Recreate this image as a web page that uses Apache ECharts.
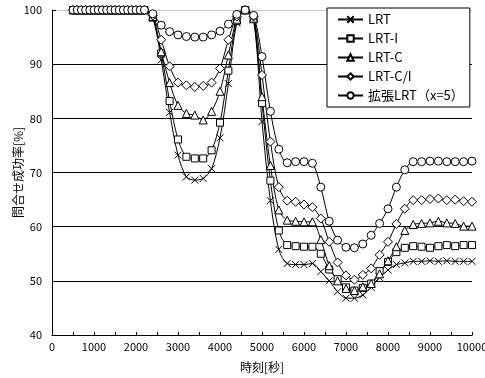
<!DOCTYPE html>
<html>
<head>
<meta charset="utf-8">
<script src="https://cdn.jsdelivr.net/npm/echarts@6/dist/echarts.min.js"></script>
<style>
  html, body { margin: 0; padding: 0; background: #fff; }
  #chart { width: 485px; height: 378px; }
</style>
</head>
<body>
<div id="chart"></div>
<script>
// time [s]; 100 s steps on the flat start, 200 s afterwards
const times = [
  500, 600, 700, 800, 900, 1000, 1100, 1200, 1300, 1400, 1500, 1600, 1700, 1800, 1900, 2000, 2100, 2200,
  2400, 2600, 2800, 3000, 3200, 3400, 3600, 3800, 4000, 4200, 4400, 4600, 4800,
  5000, 5200, 5400, 5600, 5800, 6000, 6200, 6400, 6600, 6800, 7000, 7200, 7400, 7600, 7800,
  8000, 8200, 8400, 8600, 8800, 9000, 9200, 9400, 9600, 9800, 10000
];
const flat = [100, 100, 100, 100, 100, 100, 100, 100, 100, 100, 100, 100, 100, 100, 100, 100, 100, 100];

const lrt = flat.concat([
  98.5, 90.8, 81.1, 73.2, 69.2, 68.6, 68.9, 70.7, 76.4, 86.4, 97.6, 100, 98.2,
  79.4, 64.8, 55.8, 53.2, 53.0, 53.0, 53.2, 51.7, 50.0, 48.0, 46.8, 46.8, 47.4, 48.8, 50.6,
  52.0, 53.0, 53.3, 53.6, 53.6, 53.7, 53.6, 53.7, 53.6, 53.6, 53.6
]);
const lrtI = flat.concat([
  98.6, 92.0, 83.2, 76.1, 72.9, 72.6, 72.6, 74.1, 79.2, 88.8, 98.0, 100, 98.3,
  82.8, 68.5, 59.3, 56.6, 56.4, 56.3, 56.3, 55.0, 52.1, 50.3, 48.8, 48.2, 48.7, 49.5, 51.8,
  53.5, 55.3, 56.1, 56.4, 56.3, 56.1, 56.4, 56.6, 56.4, 56.6, 56.6
]);
const lrtC = flat.concat([
  98.8, 92.3, 86.6, 82.4, 80.9, 80.6, 79.7, 81.3, 85.0, 91.7, 98.3, 100, 98.5,
  84.0, 71.3, 63.1, 61.2, 61.0, 60.9, 60.9, 57.6, 52.8, 50.0, 48.6, 48.2, 48.9, 49.5, 51.3,
  53.7, 56.3, 59.3, 60.4, 60.6, 60.7, 61.0, 60.7, 60.6, 60.1, 60.1
]);
const lrtCI = flat.concat([
  99.0, 94.5, 89.6, 86.6, 86.1, 85.8, 86.0, 86.6, 89.2, 94.5, 98.8, 100, 98.8,
  88.0, 75.7, 67.3, 64.8, 64.6, 64.1, 63.6, 61.5, 57.2, 53.4, 51.0, 50.2, 51.1, 52.3, 54.8,
  57.2, 60.5, 63.3, 64.9, 64.9, 65.1, 65.2, 64.9, 65.0, 64.7, 64.6
]);
const extLrt = flat.concat([
  99.3, 97.2, 96.0, 95.4, 95.1, 95.0, 95.0, 95.4, 96.1, 97.4, 99.2, 100, 99.0,
  91.4, 81.3, 74.3, 71.8, 72.0, 72.0, 71.7, 67.3, 61.0, 57.5, 56.2, 56.1, 56.8, 58.4, 60.6,
  63.3, 67.3, 70.5, 72.0, 72.0, 72.1, 72.1, 72.0, 72.0, 72.0, 72.1
]);

const seriesNames = ['LRT', 'LRT-I', 'LRT-C', 'LRT-C/I', '拡張LRT（x=5）'];
const seriesValues = [lrt, lrtI, lrtC, lrtCI, extLrt];
const symbols = ['path://M0,0L10,10M0,10L10,0', 'rect', 'triangle', 'diamond', 'circle'];
const symbolSizes = [7, 7, 8, 9, 8];

const font = '"Noto Sans CJK JP", sans-serif';

const option = {
  animation: false,
  backgroundColor: '#fff',
  textStyle: { fontFamily: font, color: '#000' },
  grid: { left: 52, right: 13, top: 10, bottom: 43, containLabel: false, outerBoundsMode: 'none' },
  legend: {
    orient: 'vertical',
    left: 327,
    top: 8,
    padding: [5, 6, 5, 10],
    itemWidth: 25,
    itemHeight: 8,
    itemGap: 6,
    backgroundColor: '#fff',
    borderColor: '#000',
    borderWidth: 1,
    textStyle: { fontFamily: font, fontSize: 13, color: '#000' },
    data: seriesNames
  },
  xAxis: {
    type: 'value',
    min: 0,
    max: 10000,
    interval: 1000,
    name: '時刻[秒]',
    nameLocation: 'middle',
    nameGap: 26,
    nameTextStyle: { fontFamily: font, fontSize: 12, color: '#000' },
    axisLine: { show: true, lineStyle: { color: '#000', width: 1 } },
    axisTick: { show: true, inside: true, length: 3, lineStyle: { color: '#000' } },
    minorTick: { show: true, splitNumber: 2, length: 3, lineStyle: { color: '#000' } },
    axisLabel: { fontFamily: font, fontSize: 11, color: '#000', margin: 6, formatter: v => String(v) },
    splitLine: { show: false }
  },
  yAxis: {
    type: 'value',
    min: 40,
    max: 100,
    interval: 10,
    name: '問合せ成功率[%]',
    nameLocation: 'middle',
    nameGap: 28,
    nameMoveOverlap: false,
    nameTextStyle: { fontFamily: font, fontSize: 12, color: '#000' },
    axisLine: { show: true, lineStyle: { color: '#000', width: 1 } },
    axisTick: { show: true, inside: true, length: 4, lineStyle: { color: '#000' } },
    axisLabel: { fontFamily: font, fontSize: 11, color: '#000', margin: 10 },
    splitLine: {
      show: true,
      lineStyle: { color: ['#000', '#000', '#000', '#000', '#000', '#000', '#c8c8c8'], width: 1 }
    }
  },
  series: seriesNames.map((name, i) => ({
    name: name,
    type: 'line',
    smooth: 0.3,
    symbol: symbols[i],
    symbolSize: symbolSizes[i],
    showAllSymbol: true,
    lineStyle: { color: '#000', width: 1 },
    itemStyle: { color: '#fff', borderColor: '#000', borderWidth: 1 },
    data: times.map((t, j) => [t, seriesValues[i][j]])
  }))
};

echarts.init(document.getElementById('chart')).setOption(option);
</script>
</body>
</html>
